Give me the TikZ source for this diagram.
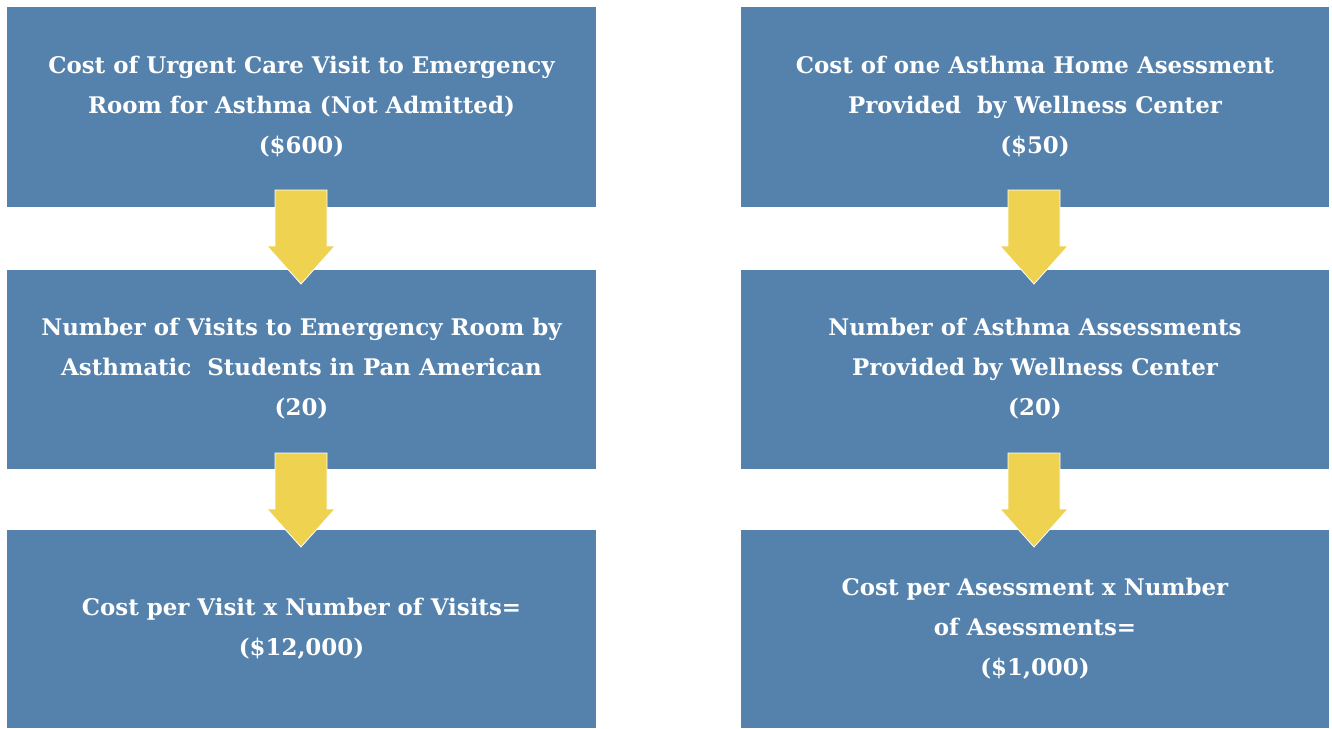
\documentclass[tikz,border=0pt]{standalone}
\usepackage{fontspec}
\setmainfont{DejaVu Serif}
\usetikzlibrary{calc}
\definecolor{boxblue}{RGB}{85,130,172}
\definecolor{arrowyellow}{RGB}{238,210,80}
\tikzset{
  costbox/.style={fill=boxblue, draw=none, text=white, font=\bfseries\fontsize{22.9}{40}\selectfont, align=center},
  flowarrow/.style={fill=arrowyellow, draw=white, line width=0.8pt, line join=miter}
}
% block arrow from a named top coordinate down to a tip 94 units lower
\newcommand{\blockarrow}[1]{%
  \draw[flowarrow] ($(#1)+(-26,0)$) -- ($(#1)+(26,0)$) -- ($(#1)+(26,56)$) -- ($(#1)+(34,56)$)
    -- ($(#1)+(0,94)$) -- ($(#1)+(-34,56)$) -- ($(#1)+(-26,56)$) -- cycle;}
\begin{document}
\begin{tikzpicture}[x=1pt,y=-1pt]
\useasboundingbox (0,0) rectangle (1332,728);
\fill[white] (0,0) rectangle (1332,728);
% left column
\fill[boxblue] (7,7) rectangle (596,207);
\node[costbox] (l1) at (301.5,107) {Cost of Urgent Care Visit to Emergency\\Room for Asthma (Not Admitted)\\(\$600)};
\fill[boxblue] (7,270) rectangle (596,469);
\node[costbox] (l2) at (301.5,369) {Number of Visits to Emergency Room by\\Asthmatic\ \ Students in Pan American\\(20)};
\fill[boxblue] (7,530) rectangle (596,728);
\node[costbox] (l3) at (301.5,629) {Cost per Visit x Number of Visits=\\(\$12,000)};
% right column
\fill[boxblue] (741,7) rectangle (1329,207);
\node[costbox] (r1) at (1035,107) {Cost of one Asthma Home Asessment\\Provided\ \ by Wellness Center\\(\$50)};
\fill[boxblue] (741,270) rectangle (1329,469);
\node[costbox] (r2) at (1035,369) {Number of Asthma Assessments\\Provided by Wellness Center\\(20)};
\fill[boxblue] (741,530) rectangle (1329,728);
\node[costbox] (r3) at (1035,629) {Cost per Asessment x Number\\of Asessments=\\(\$1,000)};
% arrows between boxes
\coordinate (a1) at (301,190);
\coordinate (a2) at (301,453);
\coordinate (a3) at (1034,190);
\coordinate (a4) at (1034,453);
\blockarrow{a1}
\blockarrow{a2}
\blockarrow{a3}
\blockarrow{a4}
\end{tikzpicture}
\end{document}
